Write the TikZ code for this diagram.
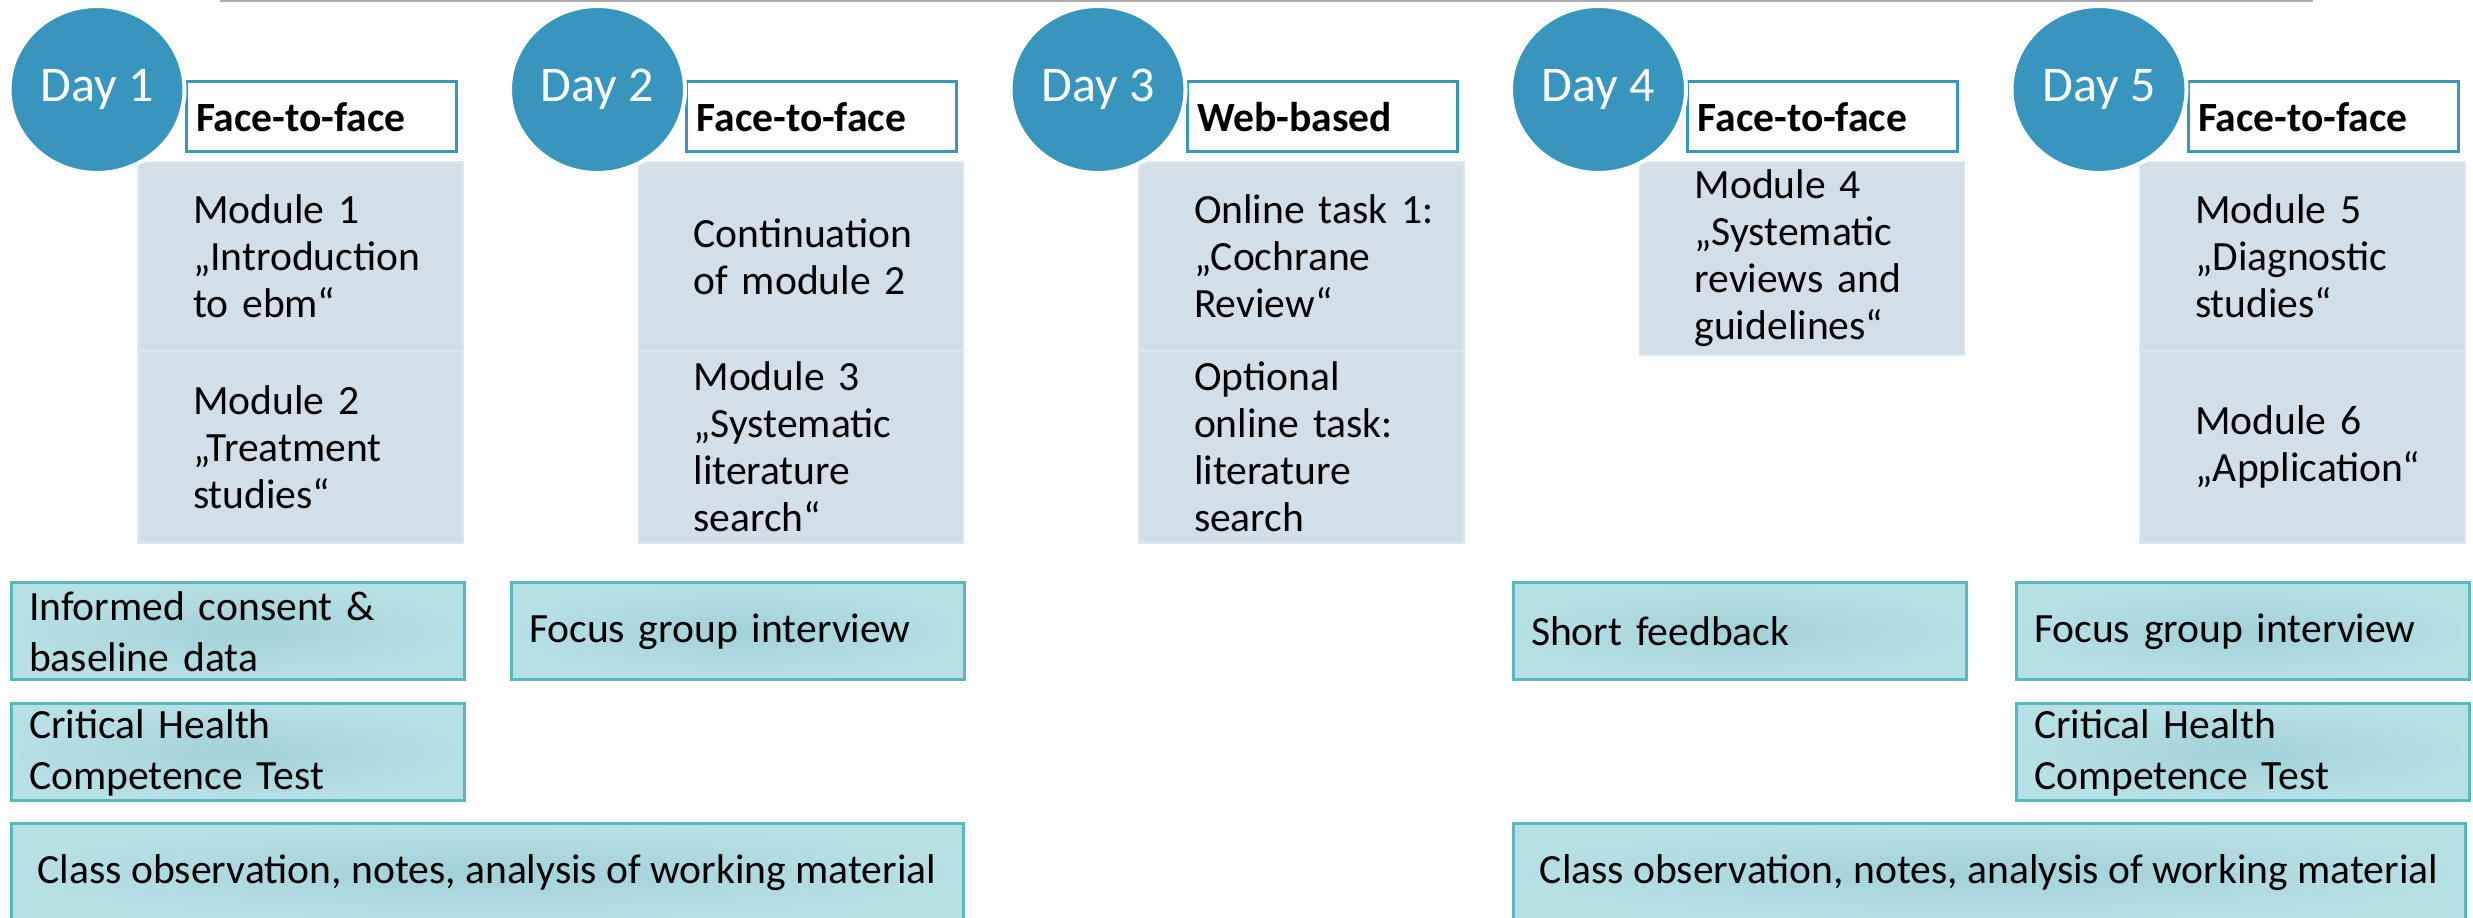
\documentclass[tikz,border=0pt]{standalone}
\usepackage{fontspec}
\setmainfont{Carlito}
\usepackage{tikz}
\usetikzlibrary{positioning,shapes.geometric}
\definecolor{dayblue}{HTML}{3895BD}
\definecolor{modfill}{HTML}{D3DFE8}
\definecolor{modline}{HTML}{DDE7EE}
\definecolor{evalin}{HTML}{A2D1D8}
\definecolor{evalout}{HTML}{B7E0E5}
\definecolor{evalline}{HTML}{5AB7C2}
\definecolor{rulegray}{HTML}{ABABAB}
\tikzset{daydot/.style={ellipse,fill=dayblue,draw=white,line width=1pt,minimum width=43.75pt,minimum height=41.75pt,inner sep=0pt,text=white,font=\fontsize{12.5}{14}\selectfont},modetag/.style={draw=dayblue,fill=white,line width=0.75pt,minimum width=67.5pt,minimum height=17.5pt,text width=62.5pt,inner xsep=2.5pt,align=left,font=\bfseries\fontsize{10.4}{12}\selectfont},unit/.style={fill=modfill,draw=modline,line width=0.4pt,outer sep=0pt,minimum width=81.25pt,text width=53.75pt,inner xsep=13.75pt,inner ysep=0pt,align=left,anchor=north west,font=\fontsize{10.4}{11.75}\selectfont},evalbase/.style={shading=radial,inner color=evalin,outer color=evalout,draw=evalline,line width=0.75pt,outer sep=0pt,inner ysep=0pt,minimum height=24.25pt,anchor=north west,font=\fontsize{10.4}{12.75}\selectfont},evalbox/.style={evalbase,minimum width=113.25pt,text width=104.25pt,inner xsep=4.5pt,align=left},classbox/.style={evalbase,minimum width=238pt}}

\begin{document}
\begin{tikzpicture}[x=0.25pt,y=-0.25pt]
  \useasboundingbox (0,0) rectangle (2473,918);
  \clip (0,0) rectangle (2473,918);
  \draw[rulegray,line width=0.5pt] (220,1)--(2313,1);
  % module blocks
  \node[unit,minimum height=47.25pt] (m1a) at (138,162) {Module~1\\„Introduction\\to~ebm“};
  \node[unit,minimum height=48pt,below=0pt of m1a] (m1b) {Module~2\\„Treatment\\studies“};
  \node[unit,minimum height=47.25pt] (m2a) at (638.5,162) {Continuation\\of~module~2};
  \node[unit,minimum height=48pt,below=0pt of m2a] (m2b) {Module~3\\„Systematic\\literature\\search“};
  \node[unit,minimum height=47.25pt] (m3a) at (1139,162) {Online~task~1:\\„Cochrane\\Review“};
  \node[unit,minimum height=48pt,below=0pt of m3a] (m3b) {Optional\\online~task:\\literature\\search};
  \node[unit,minimum height=48.25pt] (m4a) at (1639.5,162) {Module~4\\„Systematic\\reviews~and\\guidelines“};
  \node[unit,minimum height=47.25pt] (m5a) at (2140,162) {Module~5\\„Diagnostic\\studies“};
  \node[unit,minimum height=48pt,below=0pt of m5a] (m5b) {Module~6\\„Application“};
  % day headers
  \foreach \d/\mode [evaluate=\d as \lx using {138+500.5*(\d-1)}] in {1/Face-to-face,2/Face-to-face,3/Web-based,4/Face-to-face,5/Face-to-face} {
    \node[modetag] (tag\d) at (\lx+183,117) {\mode};
    \node[daydot] (day\d) at (\lx-41,89.5) {Day \d};
  }
  % evaluation
  \node[evalbox] (consent1) at (11,583) {Informed consent \&\\baseline data};
  \node[evalbox] (chc1) at (11,704) {Critical Health\\Competence Test};
  \node[classbox] (obs1) at (11,824) {Class observation, notes, analysis of working material};
  \node[evalbox] (focus2) at (511,583) {Focus group interview};
  \node[evalbox] (short4) at (1513,583) {Short feedback};
  \node[evalbox] (focus5) at (2016,583) {Focus group interview};
  \node[evalbox] (chc5) at (2016,704) {Critical Health\\Competence Test};
  \node[classbox] (obs4) at (1513,824) {Class observation, notes, analysis of working material};
\end{tikzpicture}
\end{document}
